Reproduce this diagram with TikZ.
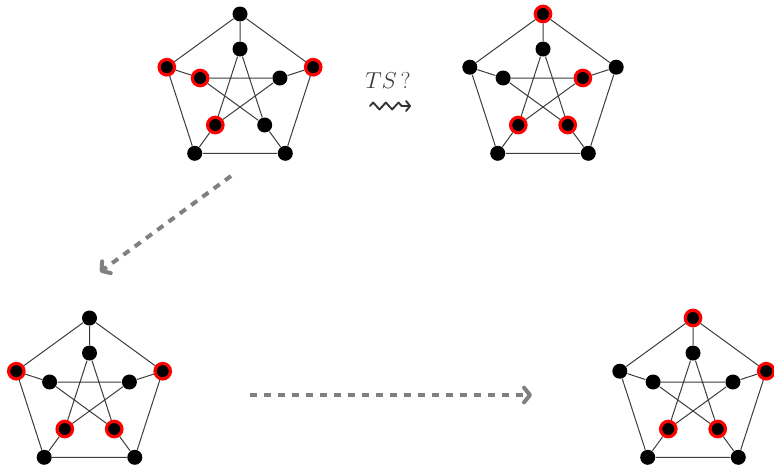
\documentclass[tikz,border=0pt]{standalone}
\usepackage{amsmath}
\usepackage{amssymb}
\usepackage{tikz}
\usetikzlibrary{arrows.meta}
\usetikzlibrary{decorations.pathmorphing}
\tikzset{every picture/.style={line width=0.75pt}}
\tikzset{
  vtx/.style={circle, fill=black, inner sep=0pt, minimum size=11.25pt},
  sel/.style={circle, fill=black, draw={rgb, 255:red, 255; green, 0; blue, 0}, line width=2.4pt, inner sep=0pt, minimum size=11.6pt},
  edge/.style={draw={rgb, 255:red, 60; green, 60; blue, 60}, line width=0.75pt},
  move/.style={draw={rgb, 255:red, 128; green, 128; blue, 128}, line width=3pt, dash pattern=on 5.5pt off 5pt, -{Straight Barb[length=4.5pt, width=11pt, line cap=round, line join=round]}},
}

\begin{document}
\begin{tikzpicture}[x=0.75pt,y=0.75pt,yscale=-1,xscale=1]
\useasboundingbox (0,0) rectangle (774,464);

%Graph: top left
\node [vtx] (g1o1) at (240,14) {};
\node [sel] (g1o2) at (313.2,67.2) {};
\node [vtx] (g1o3) at (285.3,153.3) {};
\node [vtx] (g1o4) at (194.7,153.3) {};
\node [sel] (g1o5) at (166.8,67.2) {};
\node [vtx] (g1i1) at (240,49) {};
\node [vtx] (g1i2) at (279.9,78) {};
\node [vtx] (g1i3) at (264.7,125) {};
\node [sel] (g1i4) at (215.3,125) {};
\node [sel] (g1i5) at (200.1,78) {};
\draw [edge] (g1o1) -- (g1o2) -- (g1o3) -- (g1o4) -- (g1o5) -- (g1o1) ;
\draw [edge] (g1o1) -- (g1i1) (g1o2) -- (g1i2) (g1o3) -- (g1i3) (g1o4) -- (g1i4) (g1o5) -- (g1i5) ;
\draw [edge] (g1i1) -- (g1i3) -- (g1i5) -- (g1i2) -- (g1i4) -- (g1i1) ;

%Graph: top right
\node [sel] (g2o1) at (543,14) {};
\node [vtx] (g2o2) at (616.2,67.2) {};
\node [vtx] (g2o3) at (588.3,153.3) {};
\node [vtx] (g2o4) at (497.7,153.3) {};
\node [vtx] (g2o5) at (469.8,67.2) {};
\node [vtx] (g2i1) at (543,49) {};
\node [sel] (g2i2) at (582.9,78) {};
\node [sel] (g2i3) at (567.7,125) {};
\node [sel] (g2i4) at (518.3,125) {};
\node [vtx] (g2i5) at (503.1,78) {};
\draw [edge] (g2o1) -- (g2o2) -- (g2o3) -- (g2o4) -- (g2o5) -- (g2o1) ;
\draw [edge] (g2o1) -- (g2i1) (g2o2) -- (g2i2) (g2o3) -- (g2i3) (g2o4) -- (g2i4) (g2o5) -- (g2i5) ;
\draw [edge] (g2i1) -- (g2i3) -- (g2i5) -- (g2i2) -- (g2i4) -- (g2i1) ;

%Graph: bottom left
\node [vtx] (g3o1) at (89.5,318) {};
\node [sel] (g3o2) at (162.7,371.2) {};
\node [vtx] (g3o3) at (134.8,457.3) {};
\node [vtx] (g3o4) at (44.2,457.3) {};
\node [sel] (g3o5) at (16.3,371.2) {};
\node [vtx] (g3i1) at (89.5,353) {};
\node [vtx] (g3i2) at (129.4,382) {};
\node [sel] (g3i3) at (114.2,429) {};
\node [sel] (g3i4) at (64.8,429) {};
\node [vtx] (g3i5) at (49.6,382) {};
\draw [edge] (g3o1) -- (g3o2) -- (g3o3) -- (g3o4) -- (g3o5) -- (g3o1) ;
\draw [edge] (g3o1) -- (g3i1) (g3o2) -- (g3i2) (g3o3) -- (g3i3) (g3o4) -- (g3i4) (g3o5) -- (g3i5) ;
\draw [edge] (g3i1) -- (g3i3) -- (g3i5) -- (g3i2) -- (g3i4) -- (g3i1) ;

%Graph: bottom right
\node [sel] (g4o1) at (693,318) {};
\node [sel] (g4o2) at (766.2,371.2) {};
\node [vtx] (g4o3) at (738.3,457.3) {};
\node [vtx] (g4o4) at (647.7,457.3) {};
\node [vtx] (g4o5) at (619.8,371.2) {};
\node [vtx] (g4i1) at (693,353) {};
\node [vtx] (g4i2) at (732.9,382) {};
\node [sel] (g4i3) at (717.7,429) {};
\node [sel] (g4i4) at (668.3,429) {};
\node [vtx] (g4i5) at (653.1,382) {};
\draw [edge] (g4o1) -- (g4o2) -- (g4o3) -- (g4o4) -- (g4o5) -- (g4o1) ;
\draw [edge] (g4o1) -- (g4i1) (g4o2) -- (g4i2) (g4o3) -- (g4i3) (g4o4) -- (g4i4) (g4o5) -- (g4i5) ;
\draw [edge] (g4i1) -- (g4i3) -- (g4i5) -- (g4i2) -- (g4i4) -- (g4i1) ;

%Straight Lines: dashed moves
\coordinate (d1) at (231,176) ;
\coordinate (d2) at (100,272) ;
\draw [move] (d1) -- (d2) ;
\coordinate (h1) at (250,395) ;
\coordinate (h2) at (532,395) ;
\draw [move] (h1) -- (h2) ;

%Curve Lines: squiggle
\coordinate (s1) at (370,106) ;
\coordinate (s2) at (411,106) ;
\draw [color={rgb, 255:red, 50; green, 50; blue, 50}, line width=1.4pt, line cap=round, line join=round, decorate, decoration={zigzag, amplitude=2.6pt, segment length=9.5pt, post length=4pt}, -{Straight Barb[length=3pt, width=7.5pt, line cap=round, line join=round]}] (s1) -- (s2) ;

% Text Node
\node (ts) at (388,80) [inner sep=0.75pt, font=\fontsize{17}{20}\selectfont, color={rgb, 255:red, 60; green, 60; blue, 60}] {$TS\,?$};

\end{tikzpicture}
\end{document}
